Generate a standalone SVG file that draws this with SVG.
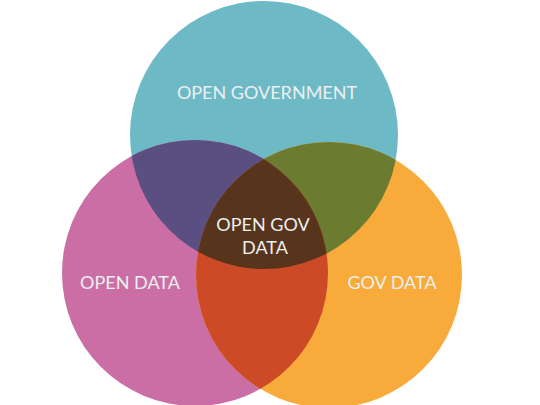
<svg xmlns="http://www.w3.org/2000/svg" width="540" height="405" viewBox="0 0 540 405">
  <style>
    .lbl { font-family: Lato, "Open Sans", "Liberation Sans", sans-serif; font-size: 18px; font-weight: 400; fill: #ebf0ee; text-anchor: middle; }
  </style>
  <defs>
    <clipPath id="clipTop"><circle cx="264" cy="135" r="134"/></clipPath>
    <clipPath id="clipLeft"><circle cx="195" cy="273" r="133"/></clipPath>
  </defs>
  <rect width="540" height="405" fill="#ffffff"/>
  <g id="open-government">
    <circle cx="264" cy="135" r="134" fill="#6db9c6"/>
  </g>
  <g id="open-data">
    <circle cx="195" cy="273" r="133" fill="#cb6ea5"/>
  </g>
  <g id="gov-data">
    <circle cx="329" cy="275" r="133" fill="#f8aa3b"/>
  </g>
  <g id="overlaps">
    <circle cx="195" cy="273" r="133" fill="#5a4f80" clip-path="url(#clipTop)"/>
    <circle cx="329" cy="275" r="133" fill="#6b7b2f" clip-path="url(#clipTop)"/>
    <circle cx="329" cy="275" r="133" fill="#cc4b26" clip-path="url(#clipLeft)"/>
    <g clip-path="url(#clipTop)">
      <circle cx="329" cy="275" r="133" fill="#58341d" clip-path="url(#clipLeft)"/>
    </g>
  </g>
  <g id="labels">
    <text class="lbl" x="267" y="99">OPEN GOVERNMENT</text>
    <text class="lbl" x="130" y="289">OPEN DATA</text>
    <text class="lbl" x="392" y="289">GOV DATA</text>
    <text class="lbl" x="263" y="231">OPEN GOV</text>
    <text class="lbl" x="265" y="254">DATA</text>
  </g>
</svg>
